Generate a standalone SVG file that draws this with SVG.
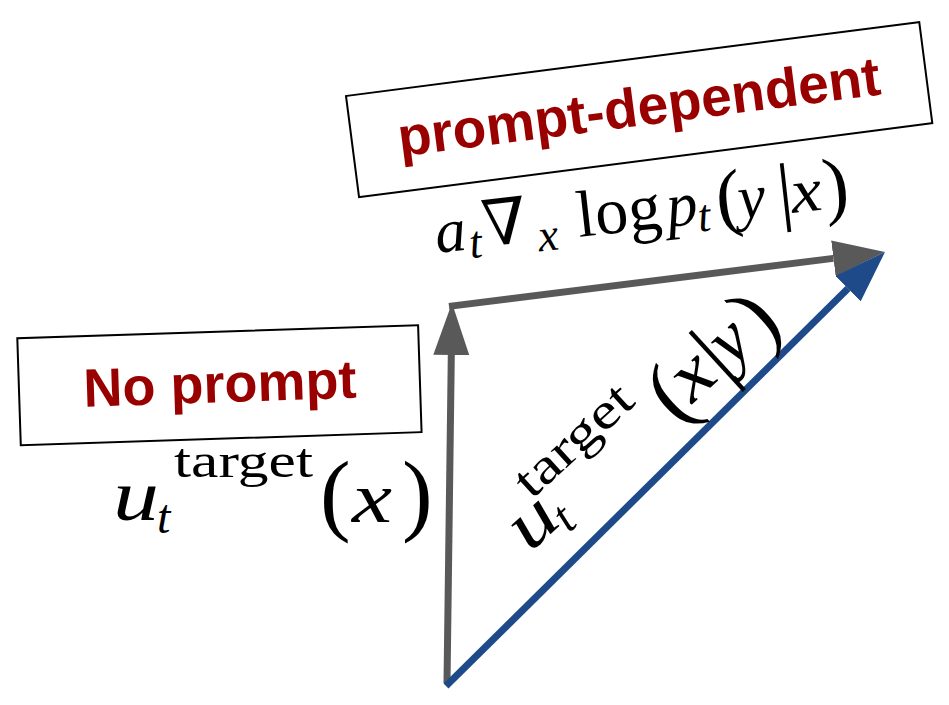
<svg xmlns="http://www.w3.org/2000/svg" width="949" height="705" viewBox="0 0 949 705">
<style>
.box{fill:#fff;stroke:#000;stroke-width:2}
.tag{font-family:"Liberation Sans",Arial,sans-serif;font-weight:bold;fill:#990000;text-anchor:middle}
.m{font-family:"Liberation Serif","Times New Roman",serif;fill:#000}
.i{font-style:italic}
.shaft-g{stroke:#595959;stroke-width:7;fill:none}
.shaft-b{stroke:#1f4a8a;stroke-width:7;fill:none}
</style>
<defs>
<marker id="head-g" markerUnits="userSpaceOnUse" markerWidth="52" markerHeight="36" refX="0" refY="18" orient="auto">
<path d="M0,0 L52,18 L0,36 Z" fill="#595959"/>
</marker>
<marker id="head-b" markerUnits="userSpaceOnUse" markerWidth="52" markerHeight="36" refX="0" refY="18" orient="auto">
<path d="M0,0 L52,18 L0,36 Z" fill="#1f4a8a"/>
</marker>
</defs>

<g id="node-prompt-dependent" transform="translate(346,96) rotate(-7.35)">
<rect class="box" x="0" y="0" width="578" height="102"/>
<text class="tag" x="289" y="67" font-size="55">prompt-dependent</text>
</g>

<g id="node-no-prompt" transform="translate(17.3,338.3) rotate(-1.87)">
<rect class="box" x="0" y="0" width="401" height="107"/>
<text class="tag" x="201" y="70.5" font-size="54">No prompt</text>
</g>

<g id="connectors">
<line id="arrow-no-prompt" class="shaft-g" x1="447" y1="683" x2="451.3" y2="355" marker-end="url(#head-g)"/>
<line id="arrow-guidance" class="shaft-g" x1="449" y1="306.4" x2="833.4" y2="258.4" marker-end="url(#head-g)"/>
<line id="arrow-prompt" class="shaft-b" x1="446" y1="686" x2="848" y2="288.6" marker-end="url(#head-b)"/>
</g>

<g id="label-guidance" transform="translate(437,253) rotate(-6.4)">
<text class="m">
<tspan class="i" x="0" y="0" font-size="62">a</tspan>
<tspan class="i" x="33" y="9" font-size="46">t</tspan>
<tspan x="48" y="-1" font-size="64" font-family="DejaVu Serif">∇</tspan>
<tspan class="i" x="102" y="10" font-size="46">x</tspan>
<tspan x="143" y="0" font-size="66">log</tspan>
<tspan class="i" x="233" y="0" font-size="62">p</tspan>
<tspan class="i" x="263" y="8" font-size="46">t</tspan>
<tspan x="283" y="2" font-size="76">(</tspan>
<tspan class="i" x="305" y="0" font-size="62">y</tspan>
<tspan x="345" y="2" font-size="76">|</tspan>
<tspan class="i" x="358" y="0" font-size="62" textLength="31" lengthAdjust="spacingAndGlyphs">x</tspan>
<tspan x="391" y="2" font-size="76">)</tspan>
</text>
</g>

<g id="label-no-prompt">
<text class="m">
<tspan class="i" x="113" y="520" font-size="72" textLength="46" lengthAdjust="spacingAndGlyphs">u</tspan>
<tspan class="i" x="157" y="533" font-size="48">t</tspan>
<tspan x="174" y="477" font-size="48" textLength="139" lengthAdjust="spacingAndGlyphs">target</tspan>
<tspan x="320" y="524" font-size="92">(</tspan>
<tspan class="i" x="352" y="522" font-size="72" textLength="40" lengthAdjust="spacingAndGlyphs">x</tspan>
<tspan x="402" y="524" font-size="92">)</tspan>
</text>
</g>

<g id="label-prompt" transform="translate(530,553) rotate(-42.5)">
<text class="m">
<tspan class="i" x="0" y="0" font-size="72" textLength="45" lengthAdjust="spacingAndGlyphs">u</tspan>
<tspan class="i" x="42" y="12" font-size="48">t</tspan>
<tspan x="37" y="-38" font-size="50" textLength="143" lengthAdjust="spacingAndGlyphs">target</tspan>
<tspan x="195" y="6" font-size="88">(</tspan>
<tspan class="i" x="220" y="0" font-size="72" textLength="38" lengthAdjust="spacingAndGlyphs">x</tspan>
<tspan x="259" y="6" font-size="88">|</tspan>
<tspan class="i" x="274" y="0" font-size="72">y</tspan>
<tspan x="311" y="6" font-size="88">)</tspan>
</text>
</g>
</svg>
